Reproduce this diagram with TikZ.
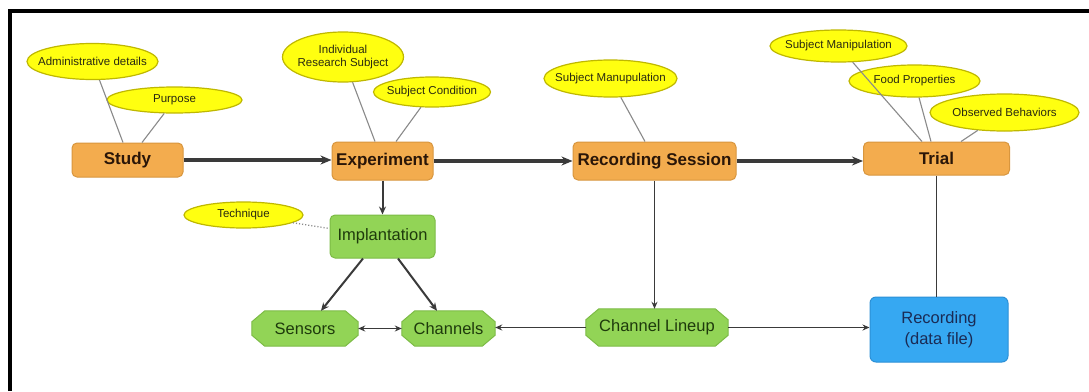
\documentclass[tikz,border=0pt]{standalone}
\usepackage{fontspec}
\setmainfont{Liberation Sans}
\usetikzlibrary{shapes.geometric,arrows.meta,calc,backgrounds}
\definecolor{ofill}{HTML}{F3AC4E}
\definecolor{odraw}{HTML}{D8963E}
\definecolor{otext}{HTML}{2A1608}
\definecolor{gfill}{HTML}{92D456}
\definecolor{gdraw}{HTML}{7CBB45}
\definecolor{gtext}{HTML}{1E3A0C}
\definecolor{bfill}{HTML}{36A8F2}
\definecolor{bdraw}{HTML}{2C90D6}
\definecolor{btext}{HTML}{1A2B55}
\definecolor{yfill}{HTML}{FFFF10}
\definecolor{ydraw}{HTML}{BFB800}
\definecolor{ytext}{HTML}{2A2A10}
\definecolor{lgray}{HTML}{8A8A8A}
\definecolor{dgray}{HTML}{3A3A3A}
\newcommand\octframe[1]{%
  \begin{pgfonlayer}{background}
  \path[draw=gdraw,line width=1pt,fill=gfill]
    ([xshift=13pt]#1.north west) -- ([xshift=-13pt]#1.north east)
    -- ([yshift=-11pt]#1.north east) -- ([yshift=11pt]#1.south east)
    -- ([xshift=-13pt]#1.south east) -- ([xshift=13pt]#1.south west)
    -- ([yshift=11pt]#1.south west) -- ([yshift=-11pt]#1.north west) -- cycle;
  \end{pgfonlayer}}
\begin{document}
\begin{tikzpicture}[x=1pt,y=-1pt,
  ell/.style={ellipse,draw=ydraw,line width=1.2pt,fill=yfill,inner xsep=-25pt,inner ysep=-8pt,
    text=ytext,font=\fontsize{11.5}{13.5}\selectfont,align=center},
  obox/.style={rectangle,rounded corners=5pt,draw=odraw,line width=1pt,fill=ofill,
    text=otext,font=\fontsize{17}{20}\selectfont\bfseries,inner sep=0pt},
  gbox/.style={rectangle,rounded corners=5pt,draw=gdraw,line width=1pt,fill=gfill,
    text=gtext,font=\fontsize{16.5}{20}\selectfont,inner sep=0pt},
  oct/.style={rectangle,text=gtext,font=\fontsize{16.5}{20}\selectfont,inner sep=0pt},
  bbox/.style={rectangle,rounded corners=6pt,draw=bdraw,line width=1pt,fill=bfill,
    text=btext,font=\fontsize{16.5}{21.5}\selectfont,align=center,inner sep=0pt},
  conn/.style={draw=lgray,line width=1.1pt},
  big/.style={draw=dgray,line width=3.3pt,-{Stealth[length=11pt,width=9pt]}},
  med/.style={draw=dgray,line width=2pt,-{Stealth[length=8pt,width=7pt]}},
  thin/.style={draw=dgray,line width=1.6pt,-{Stealth[length=7pt,width=6pt]}}
]
\useasboundingbox (0,0) rectangle (1089,391);
\begin{pgfonlayer}{background}
\fill[white] (0,0) rectangle (1089,391);
\end{pgfonlayer}
% frame
\draw[black,line width=4pt] (10,391) -- (10,11) -- (1089,11);

% main boxes
\node[obox,minimum width=111pt,minimum height=34pt] (study) at (127.5,160) {Study};
\node[obox,minimum width=101pt,minimum height=38pt] (exp) at (382.5,161) {Experiment};
\node[obox,minimum width=163pt,minimum height=38pt] (rs) at (654.5,161) {Recording Session};
\node[obox,minimum width=146pt,minimum height=33pt] (trial) at (936.5,158.5) {Trial};

\node[gbox,minimum width=105pt,minimum height=43pt] (impl) at (382.5,236.5) {Implantation};
\node[oct,minimum width=106pt,minimum height=35pt] (sens) at (305,328.5) {Sensors};
\octframe{sens}
\node[oct,minimum width=93pt,minimum height=35pt] (chan) at (448.5,328.5) {Channels};
\octframe{chan}
\node[oct,minimum width=142pt,minimum height=37pt] (lineup) at (657,327.5) {Channel Lineup};
\octframe{lineup}
\node[bbox,minimum width=138pt,minimum height=65pt] (rec) at (939,329.5) {Recording\\(data file)};

% ellipses
\node[ell,minimum width=131pt,minimum height=36pt] (adm) at (92.5,61.5) {Administrative details};
\node[ell,minimum width=135pt,minimum height=26pt] (purp) at (174.5,100) {Purpose};
\node[ell,minimum width=121pt,minimum height=50pt] (irs) at (343,57) {Individual\\Research Subject};
\node[ell,minimum width=117pt,minimum height=30pt] (scond) at (432,92) {Subject Condition};
\node[ell,minimum width=133pt,minimum height=37pt] (smanu) at (610.5,78.5) {Subject Manupulation};
\node[ell,minimum width=137pt,minimum height=32pt] (smani) at (838.5,46) {Subject Manipulation};
\node[ell,minimum width=131pt,minimum height=32pt] (food) at (914.5,81) {Food Properties};
\node[ell,minimum width=149pt,minimum height=37pt] (obs) at (1004.5,112.5) {Observed Behaviors};
\node[ell,minimum width=119pt,minimum height=26pt] (tech) at (243.5,215) {Technique};

% ellipse connectors
\draw[conn] (adm) -- ([xshift=-4.5pt]study.north);
\draw[conn] (purp) -- ([xshift=14.5pt]study.north);
\draw[conn] (irs) -- ([xshift=-7.5pt]exp.north);
\draw[conn] (scond) -- ([xshift=13.5pt]exp.north);
\draw[conn] (smanu) -- ([xshift=-9.5pt]rs.north);
\draw[conn] (smani) -- ([xshift=-14.5pt]trial.north);
\draw[conn] (food) -- ([xshift=-5.5pt]trial.north);
\draw[conn] (obs) -- ([xshift=24.5pt]trial.north);
\draw[conn,dotted,line width=1.3pt] (tech) -- ([yshift=8pt]impl.west);

% main flow
\draw[big] (study.east) -- (study.east -| exp.west);
\draw[big] (exp.east) -- (exp.east -| rs.west);
\draw[big,line width=4.5pt] (rs.east) -- (rs.east -| trial.west);
\draw[med] (exp.south) -- (impl.north);
\draw[med] ([xshift=-19.5pt]impl.south) -- ([xshift=16pt]sens.north);
\draw[med] ([xshift=15.5pt]impl.south) -- ([xshift=-11.5pt]chan.north);
\draw[thin,{Stealth[length=7pt,width=6pt]}-{Stealth[length=7pt,width=6pt]}] (sens.east) -- (chan.west);
\draw[thin] (lineup.west) -- (lineup.west -| chan.east);
\draw[thin] (rs.south) -- (rs.south |- lineup.north);
\draw[thin] (lineup.east) -- (lineup.east -| rec.west);
\draw[draw=dgray,line width=1.6pt] (trial.south) -- (trial.south |- rec.north);
\end{tikzpicture}
\end{document}
